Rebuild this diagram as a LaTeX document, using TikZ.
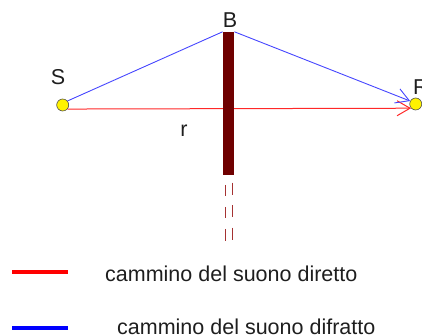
\documentclass[tikz,border=0pt]{standalone}
\usepackage{fontspec}
\setmainfont{Liberation Sans}
\usepackage{xcolor}
\definecolor{wallred}{RGB}{111, 0, 0}
\definecolor{dashred}{RGB}{165, 50, 50}
\definecolor{directred}{RGB}{255, 40, 40}
\definecolor{diffblue}{RGB}{70, 70, 255}
\definecolor{labelgray}{RGB}{30, 30, 30}
\usetikzlibrary{arrows.meta,positioning}

\tikzset{
  srcpt/.style={circle, draw=black!70, fill=yellow, minimum size=12pt, inner sep=0pt, line width=0.6pt},
  wallbox/.style={fill=wallred, minimum width=11.5pt, minimum height=143pt, inner sep=0pt},
  lbl/.style={font=\fontsize{21.5}{25}\selectfont, text=labelgray, inner sep=0pt},
  direct/.style={directred, line width=1pt},
  diffr/.style={diffblue, line width=0.9pt},
  barbtip/.style={-{Straight Barb[length=13pt,width=15pt]}}
}

\begin{document}
\begin{tikzpicture}[x=1pt, y=-1pt]
    \useasboundingbox (0, 0) rectangle (422, 336);

    % Source and receiver
    \node[srcpt] (S) at (62.7, 105) {};
    \node[srcpt] (R) at (415.7, 104) {};

    % Labels
    \node[lbl] (Slbl) at (58, 77) {S};
    \node[lbl] (Blbl) at (230, 20.5) {B};
    \node[lbl, anchor=west] (Rlbl) at (413, 87.5) {R};
    \node[lbl] (rlbl) at (184, 131) {r};

    % Direct path (under the barrier)
    \draw[direct, barbtip] (S.-40) -- (R.-138);

    % Barrier
    \node[wallbox] (wall) at (228.5, 103.5) {};

    % Diffracted path over the top edge
    \draw[diffr] (S.40) -- (wall.north west);
    \draw[diffr, barbtip] (wall.north east) -- (R.152);

    % Barrier continues below
    \coordinate (dashL) at (225.7, 185);
    \coordinate (dashR) at (232.7, 182.7);
    \draw[dashred, line width=1.4pt, dash pattern=on 11.5pt off 10.5pt] (dashL) -- ++(0, 56);
    \draw[dashred, line width=1.4pt, dash pattern=on 12pt off 10.5pt] (dashR) -- ++(0, 57);

    % Legend
    \draw[red, line width=3.5pt] (12, 272) -- (68, 272);
    \node[lbl, anchor=base west] (legdirect) at (105, 281.7) {cammino del suono diretto};
    \draw[blue, line width=3.5pt] (12, 328) -- (68, 328);
    \node[lbl, anchor=base west] (legdiffr) at (117, 334) {cammino del suono difratto};
\end{tikzpicture}
\end{document}
